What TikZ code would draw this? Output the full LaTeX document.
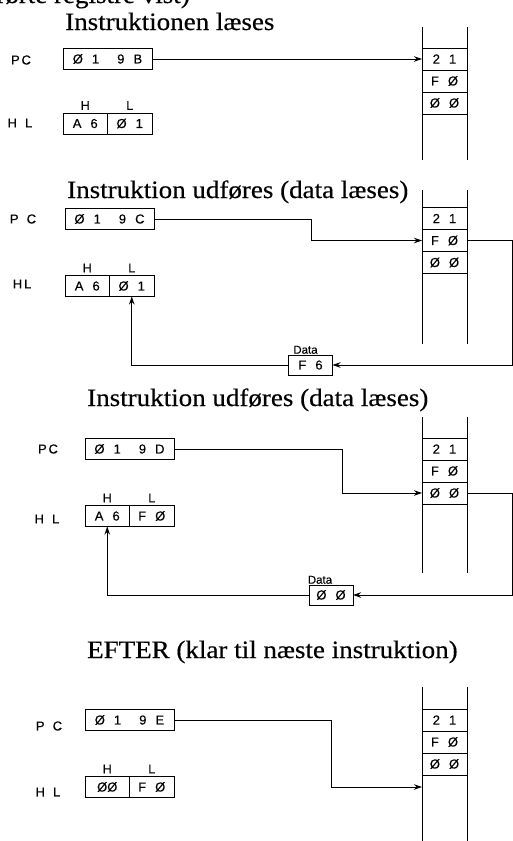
\documentclass[tikz,border=0pt]{standalone}
\usepackage{fontspec}
\setmainfont{Liberation Serif}[FakeStretch=1.08, FakeBold=0.4]
\newfontfamily\regfont{Liberation Sans}[WordSpace=2.5, FakeBold=0.3]
\newfontfamily\lblfont{Liberation Sans}[LetterSpace=14, WordSpace=1.5, FakeBold=0.3]
\usetikzlibrary{arrows.meta, positioning}

\begin{document}
\begin{tikzpicture}[
  x=1pt, y=-1pt,
  ttl/.style={anchor=base west, inner sep=0pt, font=\fontsize{25}{28}\selectfont},
  lbl/.style={font=\lblfont\fontsize{13}{15}\selectfont},
  tag/.style={font=\regfont\fontsize{12.5}{14}\selectfont, inner sep=1pt},
  reg/.style={draw, line width=1pt, outer sep=0pt, inner sep=0pt,
    minimum width=89pt, minimum height=21pt,
    font=\regfont\fontsize{13}{15}\selectfont},
  half/.style={reg, minimum width=44.5pt},
  cell/.style={reg, minimum width=45pt, minimum height=22pt},
  datbox/.style={reg, minimum width=44pt, minimum height=20pt},
  dlbl/.style={font=\regfont\fontsize{11.5}{13}\selectfont, inner sep=1pt},
  wall/.style={line width=1pt},
  flow/.style={line width=0.9pt, -{Stealth[length=8pt, width=5.5pt]}},
]
  \useasboundingbox (0,0) rectangle (513,841);
  \clip (0,0) rectangle (513,841);

  % cut-off line at the top
  \node[ttl, anchor=base east] (cut) at (190,3) {(de berørte registre vist)};

  % Titles
  \node[ttl] (t1) at (65,30)  {Instruktionen læses};
  \node[ttl] (t2) at (67,198) {Instruktion udføres (data læses)};
  \node[ttl] (t3) at (87,406) {Instruktion udføres (data læses)};
  \node[ttl] (t4) at (87,658) {EFTER (klar til næste instruktion)};

  % Stacks
  \foreach \p/\top/\bot in {1/27/160, 2/190/344, 3/417/573, 4/687/845} {
    \draw[wall] (422,\top) -- (422,\bot) (467,\top) -- (467,\bot);
  }
  \foreach \p/\yy in {1/59, 2/218.5, 3/449, 4/720} {
    \foreach \v [count=\i] in {2 1, F Ø, Ø Ø}
      \node[cell] (s\p\i) at (444.5, \yy+22*\i-22) {\v};
  }

  % Panel 1
  \node[lbl] (pcl1) at (21,60) {PC};
  \node[reg] (pc1) at (107.5,59) {Ø 1 \ 9 B};
  \node[lbl] (hll1l) at (20,123) {H L};
  \node[half] (hlh1) at (85.25,123.5) {A 6};
  \node[half, right=0pt of hlh1] (hll1) {Ø 1};
  \node[tag, above=2pt of hlh1] {H};
  \node[tag, above=2pt of hll1] {L};
  \draw[flow] (pc1.east) -- (s11.west);

  % Panel 2
  \node[lbl] (pcl2) at (23,219) {P C};
  \node[reg] (pc2) at (109.5,219) {Ø 1 \ 9 C};
  \node[lbl] (hll2l) at (22,284) {HL};
  \node[half] (hlh2) at (87.25,286) {A 6};
  \node[half, right=0pt of hlh2] (hll2) {Ø 1};
  \node[tag, above=2pt of hlh2] {H};
  \node[tag, above=2pt of hll2] {L};
  \node[datbox] (dat2) at (310.5,365) {F 6};
  \node[dlbl, above=0pt of dat2, xshift=-5pt] {Data};
  \draw[flow] (pc2.east) -- ++(157,0) |- (s22.west);
  \draw[flow] (s22.east) -- ++(45,0) |- (dat2.east);
  \draw[flow] (dat2.west) -| (hll2.south);

  % Panel 3
  \node[lbl] (pcl3) at (48,449) {PC};
  \node[reg] (pc3) at (129.5,449) {Ø 1 \ 9 D};
  \node[lbl] (hll3l) at (47,519) {H L};
  \node[half] (hlh3) at (107.25,516) {A 6};
  \node[half, right=0pt of hlh3] (hll3) {F Ø};
  \node[tag, above=2pt of hlh3] {H};
  \node[tag, above=2pt of hll3] {L};
  \node[datbox] (dat3) at (331,595) {Ø Ø};
  \node[dlbl, above=0pt of dat3, xshift=-11pt] {Data};
  \draw[flow] (pc3.east) -- ++(168,0) |- (s33.west);
  \draw[flow] (s33.east) -- ++(45.5,0) |- (dat3.east);
  \draw[flow] (dat3.west) -| (hlh3.south);

  % Panel 4
  \node[lbl] (pcl4) at (49,726) {P C};
  \node[reg] (pc4) at (129.5,720) {Ø 1 \ 9 E};
  \node[lbl] (hll4l) at (48,792) {H L};
  \node[half] (hlh4) at (107.25,787) {ØØ};
  \node[half, right=0pt of hlh4] (hll4) {F Ø};
  \node[tag, above=2pt of hlh4] {H};
  \node[tag, above=2pt of hll4] {L};
  \coordinate (slot4) at ([yshift=-12pt]s43.south west);
  \draw[flow] (pc4.east) -- ++(157,0) |- (slot4);
\end{tikzpicture}
\end{document}
